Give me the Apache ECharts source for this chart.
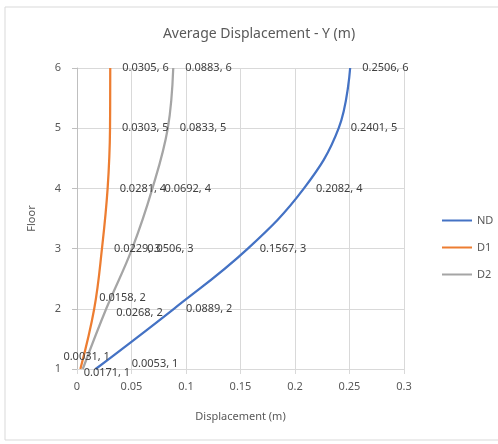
<!DOCTYPE html>
<html>
<head>
<meta charset="utf-8">
<script src="https://cdn.jsdelivr.net/npm/echarts@6/dist/echarts.min.js"></script>
<style>
  html, body { margin: 0; padding: 0; background: #fff; }
  #chart { width: 498px; height: 444px; }
</style>
</head>
<body>
<div id="chart"></div>
<script>
// floors (y) and displacements (x)
const floors = [1, 2, 3, 4, 5, 6]
const ndValues = [0.0171, 0.0889, 0.1567, 0.2082, 0.2401, 0.2506]
const d1Values = [0.0031, 0.0158, 0.0229, 0.0281, 0.0303, 0.0305]
const d2Values = [0.0053, 0.0268, 0.0506, 0.0692, 0.0833, 0.0883]
const seriesNames = ['ND', 'D1', 'D2']
const seriesColors = ['#4472C4', '#ED7D31', '#A5A5A5']

// label nudges (px) for the crowded points near the bottom, by floor index
const labelNudges = {
  ND: { 0: [-24, 4] },
  D1: { 0: [-29, -12], 1: [-7, -11] },
  D2: { 0: [37, -5], 1: [-2, 4], 2: [3, 0] }
}

const textColor = '#595959'
const font = 'Noto Sans'

function buildSeries(name, values, color) {
  return {
    name: name,
    type: 'line',
    smooth: 0.4,
    showSymbol: true,
    symbol: 'circle',
    symbolSize: 0,
    color: color,
    lineStyle: { width: 2.25, color: color },
    label: {
      show: true,
      position: 'right',
      distance: 12,
      color: '#404040',
      fontFamily: font,
      fontSize: 11,
      formatter: p => p.value[0] + ', ' + p.value[1]
    },
    labelLayout: params => {
      const nudge = labelNudges[name][params.dataIndex] || [0, 0]
      return { dx: nudge[0], dy: nudge[1], hideOverlap: false }
    },
    data: values.map((x, i) => [x, floors[i]])
  }
}

const chart = echarts.init(document.getElementById('chart'))

const option = {
  backgroundColor: '#fff',
  animation: false,
  graphic: [{
    type: 'rect',
    shape: { x: 5, y: 7, width: 520, height: 433 },
    style: { fill: 'none', stroke: '#d9d9d9', lineWidth: 1 },
    silent: true,
    z: -1
  }],
  title: {
    text: 'Average Displacement - Y (m)',
    left: 254,
    top: 22,
    textAlign: 'center',
    textStyle: { color: textColor, fontFamily: font, fontSize: 14, fontWeight: 'normal' }
  },
  legend: {
    orient: 'vertical',
    left: 437,
    top: 210,
    itemGap: 16,
    itemWidth: 30,
    itemHeight: 14,
    icon: 'path://M0,6 L30,6 L30,8 L0,8 Z',
    textStyle: { color: textColor, fontFamily: font, fontSize: 11 },
    data: seriesNames
  },
  grid: { left: 77, right: 94, top: 68, bottom: 75 },
  xAxis: {
    type: 'value',
    min: 0,
    max: 0.3,
    interval: 0.05,
    name: 'Displacement (m)',
    nameLocation: 'middle',
    nameGap: 42,
    nameTextStyle: { color: textColor, fontFamily: font, fontSize: 11 },
    axisLine: { show: true, lineStyle: { color: '#d9d9d9' } },
    axisTick: { show: true, length: 5, lineStyle: { color: '#d9d9d9' } },
    axisLabel: { color: textColor, fontFamily: font, fontSize: 11, margin: 12 },
    splitLine: { show: true, lineStyle: { color: '#d9d9d9' } }
  },
  yAxis: {
    type: 'value',
    min: 1,
    max: 6,
    interval: 1,
    name: 'Floor',
    nameLocation: 'middle',
    nameGap: 40,
    nameTextStyle: { color: textColor, fontFamily: font, fontSize: 11 },
    axisLine: { show: true, lineStyle: { color: '#bfbfbf' } },
    axisTick: { show: true, length: 5, lineStyle: { color: '#bfbfbf' } },
    axisLabel: { color: textColor, fontFamily: font, fontSize: 11, margin: 16 },
    splitLine: { show: true, lineStyle: { color: '#d9d9d9' } }
  },
  series: [
    buildSeries('ND', ndValues, seriesColors[0]),
    buildSeries('D1', d1Values, seriesColors[1]),
    buildSeries('D2', d2Values, seriesColors[2])
  ]
}

chart.setOption(option)
</script>
</body>
</html>
